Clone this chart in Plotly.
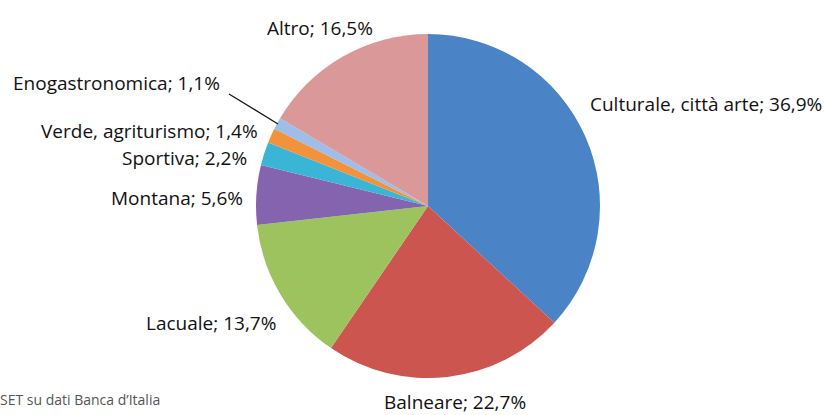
import plotly.graph_objects as go

categories = ["Culturale, città arte", "Balneare", "Lacuale", "Montana", "Sportiva",
              "Verde, agriturismo", "Enogastronomica", "Altro"]
values = [36.9, 22.7, 13.7, 5.6, 2.2, 1.4, 1.1, 16.5]
colors = ["#4A84C6", "#CD5550", "#9DC35E", "#8464AE", "#3BB5D6", "#F2923A", "#9EBDE8", "#DA9898"]

# label anchor positions in pixels (x, y, xanchor)
label_pos = [(588, 104, "left"), (455, 402, "center"), (278, 323, "right"), (245, 198, "right"),
             (249, 158, "right"), (260, 131, "right"), (222, 83, "right"), (320, 28, "center")]

W, H = 830, 415
cx, cy, r = 428, 206, 172

fig = go.Figure(go.Pie(
    labels=categories, values=values, sort=False, direction="clockwise", rotation=0,
    marker=dict(colors=colors, line=dict(width=0)),
    textinfo="none", hoverinfo="label+percent", showlegend=False,
    domain=dict(x=[(cx - r) / W, (cx + r) / W], y=[(H - cy - r) / H, (H - cy + r) / H]),
))

def fmt(v):
    return ("%.1f" % v).replace(".", ",") + "%"

for cat, v, (px, py, xa) in zip(categories, values, label_pos):
    fig.add_annotation(x=px / W, y=1 - py / H, xref="paper", yref="paper",
                       text=f"{cat}; {fmt(v)}", showarrow=False, xanchor=xa, yanchor="middle",
                       font=dict(family="Open Sans", size=19, color="#111111"))

# leader line for Enogastronomica
fig.add_shape(type="line", xref="paper", yref="paper",
              x0=229 / W, y0=1 - 94 / H, x1=278 / W, y1=1 - 124 / H,
              line=dict(color="#111111", width=1.2))

fig.add_annotation(x=0, y=1 - 399 / H, xref="paper", yref="paper", text="SET su dati Banca d’Italia",
                   showarrow=False, xanchor="left", yanchor="middle", xshift=-2,
                   font=dict(family="Open Sans", size=14, color="#555555"))

fig.update_layout(width=W, height=H, margin=dict(l=0, r=0, t=0, b=0),
                  paper_bgcolor="white", plot_bgcolor="white")
fig.write_html("out.html", config={"displayModeBar": False},
               post_script="document.body.style.margin='0';")
